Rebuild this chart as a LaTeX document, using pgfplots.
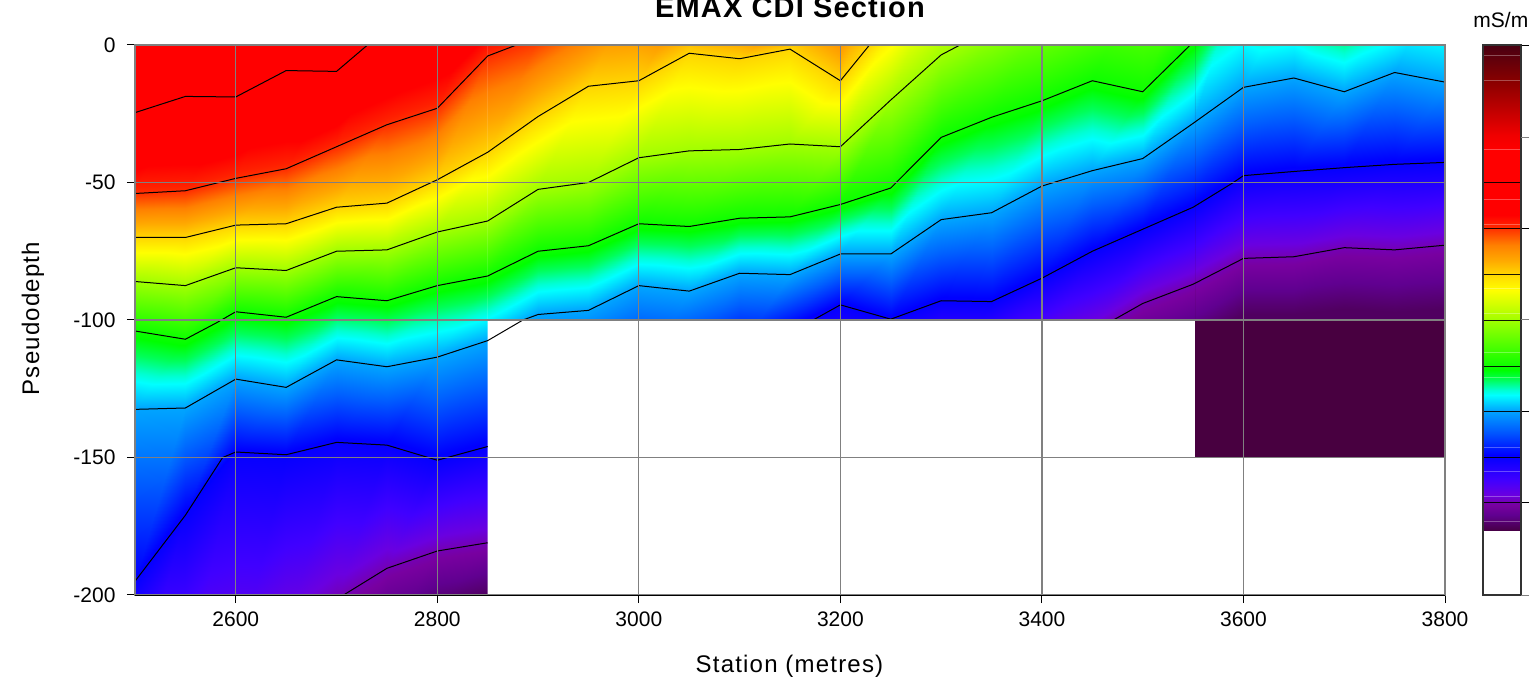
\documentclass[border=0pt]{standalone}
\usepackage{fontspec}
\setmainfont{Liberation Sans}
\newfontfamily\labelfont[LetterSpace=5]{Liberation Sans}
\newfontfamily\titlefont[LetterSpace=4,BoldFont={Liberation Sans Bold}]{Liberation Sans}
\usepackage{pgfplots}
\usepackage{pgfplotstable}
\pgfplotsset{compat=1.18}
\definecolor{gridgray}{RGB}{128,128,128}
\definecolor{deepplum}{RGB}{72,0,64}
\pgfplotsset{
  colormap={emax}{
    rgb255(45)=(72,0,18); rgb255(80)=(135,0,0); rgb255(110)=(192,0,0); rgb255(135)=(240,0,0);
    rgb255(150)=(255,0,0); rgb255(215)=(255,0,0); rgb255(225)=(255,32,0); rgb255(245)=(255,128,0);
    rgb255(260)=(255,168,0); rgb255(275)=(255,216,0); rgb255(290)=(255,255,0); rgb255(320)=(160,255,0);
    rgb255(350)=(64,255,0); rgb255(370)=(0,255,0); rgb255(380)=(0,255,90); rgb255(390)=(0,255,210); rgb255(395)=(0,255,255);
    rgb255(410)=(0,168,255); rgb255(430)=(0,96,255); rgb255(455)=(0,0,255); rgb255(480)=(64,0,255);
    rgb255(495)=(106,0,224); rgb255(505)=(120,0,160); rgb255(515)=(96,0,144); rgb255(530)=(72,0,72);
  }
}
\pgfplotstableread[row sep=\\]{
x y m\\
2500 260 170\\ 2550 260 170\\ 2600 260 170\\ 2650 260 170\\ 2700 260 170\\ 2750 260 170\\ 2800 260 170\\ 2850 260 170\\ 2900 260 170\\ 2950 260 170\\ 3000 260 170\\ 3050 260 170\\ 3100 260 170\\ 3150 260 170\\ 3200 260 170\\ 3250 260 170\\ 3300 260 170\\ 3350 260 170\\ 3400 260 170\\ 3450 260 170\\ 3500 260 170\\ 3550 260 170\\ 3600 260 170\\ 3650 260 170\\ 3700 260 170\\ 3750 260 170\\ 3800 260 170\\
2500 -24.6 182\\ 2550 -18.7 182\\ 2600 -18.9 182\\ 2650 -9.3 182\\ 2700 -9.6 182\\ 2750 6 182\\ 2800 14 182\\ 2850 24 182\\ 2900 30 182\\ 2950 36 182\\ 3000 42 182\\ 3050 48 182\\ 3100 54 182\\ 3150 60 182\\ 3200 64 182\\ 3250 80 182\\ 3300 100 182\\ 3350 115 182\\ 3400 125 182\\ 3450 130 182\\ 3500 135 182\\ 3550 140 182\\ 3600 145 182\\ 3650 150 182\\ 3700 155 182\\ 3750 160 182\\ 3800 165 182\\
2500 -54 228\\ 2550 -53 228\\ 2600 -48.5 228\\ 2650 -45 228\\ 2700 -37 228\\ 2750 -29 228\\ 2800 -23 228\\ 2850 -4 228\\ 2900 3 228\\ 2950 14 228\\ 3000 25 228\\ 3050 20 228\\ 3100 14 228\\ 3150 10 228\\ 3200 16 228\\ 3250 45 228\\ 3300 70 228\\ 3350 85 228\\ 3400 95 228\\ 3450 100 228\\ 3500 105 228\\ 3550 110 228\\ 3600 115 228\\ 3650 120 228\\ 3700 125 228\\ 3750 130 228\\ 3800 135 228\\
2500 -70 274\\ 2550 -70 274\\ 2600 -65.5 274\\ 2650 -65 274\\ 2700 -59 274\\ 2750 -57.5 274\\ 2800 -49 274\\ 2850 -39 274\\ 2900 -26 274\\ 2950 -15 274\\ 3000 -13 274\\ 3050 -3 274\\ 3100 -5 274\\ 3150 -1.5 274\\ 3200 -13 274\\ 3250 9.5 274\\ 3300 30 274\\ 3350 40 274\\ 3400 50 274\\ 3450 60 274\\ 3500 65 274\\ 3550 70 274\\ 3600 75 274\\ 3650 80 274\\ 3700 85 274\\ 3750 90 274\\ 3800 95 274\\
2500 -86 320\\ 2550 -87.5 320\\ 2600 -81 320\\ 2650 -82 320\\ 2700 -75 320\\ 2750 -74.5 320\\ 2800 -68 320\\ 2850 -64 320\\ 2900 -52.5 320\\ 2950 -50 320\\ 3000 -41 320\\ 3050 -38.5 320\\ 3100 -38 320\\ 3150 -36 320\\ 3200 -37 320\\ 3250 -20 320\\ 3300 -3.6 320\\ 3350 6 320\\ 3400 15 320\\ 3450 22 320\\ 3500 28 320\\ 3550 34 320\\ 3600 50 320\\ 3650 50 320\\ 3700 50 320\\ 3750 55 320\\ 3800 60 320\\
2500 -104 366\\ 2550 -107 366\\ 2600 -97 366\\ 2650 -99 366\\ 2700 -91.5 366\\ 2750 -93 366\\ 2800 -87.5 366\\ 2850 -84 366\\ 2900 -75 366\\ 2950 -73 366\\ 3000 -65 366\\ 3050 -66 366\\ 3100 -63 366\\ 3150 -62.5 366\\ 3200 -58 366\\ 3250 -52 366\\ 3300 -33.6 366\\ 3350 -26.3 366\\ 3400 -20.3 366\\ 3450 -13 366\\ 3500 -17 366\\ 3550 1 366\\ 3600 30 366\\ 3650 22 366\\ 3700 13 366\\ 3750 22 366\\ 3800 30 366\\
2500 -132.5 411\\ 2550 -132 411\\ 2600 -121.5 411\\ 2650 -124.5 411\\ 2700 -114.5 411\\ 2750 -117 411\\ 2800 -113.5 411\\ 2850 -107.5 411\\ 2900 -98 411\\ 2950 -96.5 411\\ 3000 -87.5 411\\ 3050 -89.5 411\\ 3100 -83 411\\ 3150 -83.5 411\\ 3200 -76 411\\ 3250 -76 411\\ 3300 -63.5 411\\ 3350 -61 411\\ 3400 -51.3 411\\ 3450 -45.7 411\\ 3500 -41.3 411\\ 3550 -28.5 411\\ 3600 -15.4 411\\ 3650 -12 411\\ 3700 -17 411\\ 3750 -10 411\\ 3800 -13.5 411\\
2500 -195 457\\ 2550 -171 457\\ 2600 -148 457\\ 2650 -149 457\\ 2700 -144.5 457\\ 2750 -145.5 457\\ 2800 -151 457\\ 2850 -146 457\\ 2900 -135 457\\ 2950 -130 457\\ 3000 -122 457\\ 3050 -118 457\\ 3100 -110 457\\ 3150 -103 457\\ 3200 -94.5 457\\ 3250 -99.7 457\\ 3300 -93 457\\ 3350 -93.3 457\\ 3400 -84.8 457\\ 3450 -75 457\\ 3500 -67 457\\ 3550 -59 457\\ 3600 -47.5 457\\ 3650 -46 457\\ 3700 -44.6 457\\ 3750 -43.4 457\\ 3800 -42.7 457\\
2500 -240 502\\ 2550 -235 502\\ 2600 -228 502\\ 2650 -215 502\\ 2700 -201 502\\ 2750 -190.3 502\\ 2800 -184 502\\ 2850 -181 502\\ 2900 -172 502\\ 2950 -165 502\\ 3000 -160 502\\ 3050 -155 502\\ 3100 -150 502\\ 3150 -145 502\\ 3200 -135 502\\ 3250 -130 502\\ 3300 -122 502\\ 3350 -118 502\\ 3400 -112 502\\ 3450 -105 502\\ 3500 -94 502\\ 3550 -87 502\\ 3600 -77.6 502\\ 3650 -77 502\\ 3700 -73.7 502\\ 3750 -74.5 502\\ 3800 -72.8 502\\
2500 -270 525\\ 2550 -265 525\\ 2600 -258 525\\ 2650 -245 525\\ 2700 -230 525\\ 2750 -215 525\\ 2800 -205 525\\ 2850 -200 525\\ 2900 -195 525\\ 2950 -190 525\\ 3000 -185 525\\ 3050 -180 525\\ 3100 -175 525\\ 3150 -170 525\\ 3200 -165 525\\ 3250 -160 525\\ 3300 -150 525\\ 3350 -145 525\\ 3400 -138 525\\ 3450 -128 525\\ 3500 -116 525\\ 3550 -108 525\\ 3600 -98 525\\ 3650 -98 525\\ 3700 -96 525\\ 3750 -97 525\\ 3800 -96 525\\
2500 -320 530\\ 2550 -320 530\\ 2600 -320 530\\ 2650 -320 530\\ 2700 -320 530\\ 2750 -320 530\\ 2800 -320 530\\ 2850 -320 530\\ 2900 -320 530\\ 2950 -320 530\\ 3000 -320 530\\ 3050 -320 530\\ 3100 -320 530\\ 3150 -320 530\\ 3200 -320 530\\ 3250 -320 530\\ 3300 -320 530\\ 3350 -320 530\\ 3400 -320 530\\ 3450 -320 530\\ 3500 -320 530\\ 3550 -320 530\\ 3600 -320 530\\ 3650 -320 530\\ 3700 -320 530\\ 3750 -320 530\\ 3800 -320 530\\
}\sectiongrid
\begin{document}
\begin{tikzpicture}
\path[use as bounding box] (0,0) rectangle (1531pt,681pt);
\begin{axis}[
  at={(135pt,86pt)}, anchor=south west,
  scale only axis, width=1310pt, height=550pt,
  xmin=2500, xmax=3800, ymin=-200, ymax=0,
  xtick={2600,2800,3000,3200,3400,3600,3800},
  xticklabels={2600,2800,3000,3200,3400,3600,3800},
  ytick={-200,-150,-100,-50,0},
  yticklabels={-200,-150,-100,-50,0},
  xtick pos=bottom, ytick pos=left,
  tick align=outside, major tick length=8pt,
  tick style={black,line width=1pt},
  grid=major, grid style={gridgray,line width=1.2pt},
  axis line style={gridgray,line width=1.2pt},
  axis on top,
  tick label style={font=\fontsize{21}{24}\selectfont},
  xticklabel style={yshift=-5pt},
  yticklabel style={xshift=-8pt},
  title={\titlefont\fontsize{29}{31}\selectfont\bfseries EMAX CDI Section},
  title style={at={(axis description cs:0.5,1.0395)},anchor=base},
  xlabel={\labelfont\fontsize{24}{28}\selectfont Station (metres)},
  xlabel style={at={(axis description cs:0.4996,-0.1305)},anchor=center},
  ylabel={\labelfont\fontsize{24}{28}\selectfont Pseudodepth},
  ylabel style={at={(axis description cs:-0.0779,0.5027)},anchor=center,rotate=0},
  colormap name=emax, point meta min=45, point meta max=530,
]
\addplot[surf,shader=interp,mesh/cols=27,point meta=explicit] table[x=x,y=y,meta=m]{\sectiongrid};
\addplot[fill=white,draw=none] coordinates {(2850,-100)(3800,-100)(3800,-200)(2850,-200)} \closedcycle;
\addplot[fill=deepplum,draw=none] coordinates {(3552,-100)(3800,-100)(3800,-150)(3552,-150)} \closedcycle;
\addplot[black,line width=1pt] coordinates {(2500,-24.6)(2550,-18.7)(2600,-18.9)(2650,-9.3)(2700,-9.6)(2750,6)};
\addplot[black,line width=1pt] coordinates {(2500,-54)(2550,-53)(2600,-48.5)(2650,-45)(2700,-37)(2750,-29)(2800,-23)(2850,-4)(2900,3)};
\addplot[black,line width=1pt] coordinates {(2500,-70)(2550,-70)(2600,-65.5)(2650,-65)(2700,-59)(2750,-57.5)(2800,-49)(2850,-39)(2900,-26)(2950,-15)(3000,-13)(3050,-3)(3100,-5)(3150,-1.5)(3200,-13)(3250,9.5)};
\addplot[black,line width=1pt] coordinates {(2500,-86)(2550,-87.5)(2600,-81)(2650,-82)(2700,-75)(2750,-74.5)(2800,-68)(2850,-64)(2900,-52.5)(2950,-50)(3000,-41)(3050,-38.5)(3100,-38)(3150,-36)(3200,-37)(3250,-20)(3300,-3.6)(3350,6)};
\addplot[black,line width=1pt] coordinates {(2500,-104)(2550,-107)(2581,-101)(2600,-97)(2650,-99)(2700,-91.5)(2750,-93)(2800,-87.5)(2850,-84)(2900,-75)(2950,-73)(3000,-65)(3050,-66)(3100,-63)(3150,-62.5)(3200,-58)(3250,-52)(3300,-33.6)(3350,-26.3)(3400,-20.3)(3450,-13)(3500,-17)(3550,1)};
\addplot[black,line width=1pt] coordinates {(2500,-132.5)(2550,-132)(2600,-121.5)(2650,-124.5)(2700,-114.5)(2750,-117)(2800,-113.5)(2850,-107.5)(2885,-100)(2900,-98)(2950,-96.5)(3000,-87.5)(3050,-89.5)(3100,-83)(3150,-83.5)(3200,-76)(3250,-76)(3300,-63.5)(3350,-61)(3400,-51.3)(3450,-45.7)(3500,-41.3)(3550,-28.5)(3600,-15.4)(3650,-12)(3700,-17)(3750,-10)(3800,-13.5)};
\addplot[black,line width=1pt] coordinates {(2500,-195)(2550,-171)(2587,-150)(2600,-148)(2650,-149)(2700,-144.5)(2750,-145.5)(2800,-151)(2850,-146)};
\addplot[black,line width=1pt] coordinates {(3173,-100)(3200,-94.5)(3250,-99.7)(3300,-93)(3350,-93.3)(3400,-84.8)(3450,-75)(3500,-67)(3550,-59)(3590,-50)(3600,-47.5)(3650,-46)(3700,-44.6)(3750,-43.4)(3800,-42.7)};
\addplot[black,line width=1pt] coordinates {(2707,-200)(2750,-190.3)(2800,-184)(2850,-181)};
\addplot[black,line width=1pt] coordinates {(3471,-100)(3500,-94)(3550,-87)(3600,-77.6)(3650,-77)(3700,-73.7)(3750,-74.5)(3800,-72.8)};
\end{axis}
\draw[black,line width=1pt] (135pt,86pt)--(1445pt,86pt);
\begin{axis}[
  at={(1483pt,86pt)}, anchor=south west,
  scale only axis, width=38pt, height=550pt,
  xmin=0, xmax=1, ymin=45, ymax=595, y dir=reverse,
  xtick=\empty,
  ytick={45,228,411,502},
  yticklabels={},
  ytick pos=right,
  tick align=outside, major tick length=8pt,
  tick style={black,line width=1pt},
  extra y ticks={137,319,595},
  extra y tick labels={},
  extra y tick style={tick style={gridgray,line width=1pt},ytick pos=right},
  axis line style={black!80,line width=1.2pt},
  axis on top,
  title={\fontsize{21}{24}\selectfont mS/m},
  title style={at={(axis description cs:0.47,1.0205)},anchor=base},
  colormap name=emax, point meta min=45, point meta max=530,
]
\addplot[surf,shader=interp,mesh/cols=2,point meta=y] coordinates {(0,45)(1,45)(0,530)(1,530)};
\foreach \v in {55,80,149,199,224,288,313,352,377,447,471,496,521} {
  \edef\tmp{\noexpand\addplot[white,opacity=0.3,line width=0.8pt] coordinates {(0,\v)(1,\v)};}\tmp
}
\foreach \v in {182,228,274,320,366,411,457,502} {
  \edef\tmp{\noexpand\addplot[black,line width=1pt,opacity=0.9] coordinates {(0,\v)(1,\v)};}\tmp
}
\end{axis}
\end{tikzpicture}
\end{document}
